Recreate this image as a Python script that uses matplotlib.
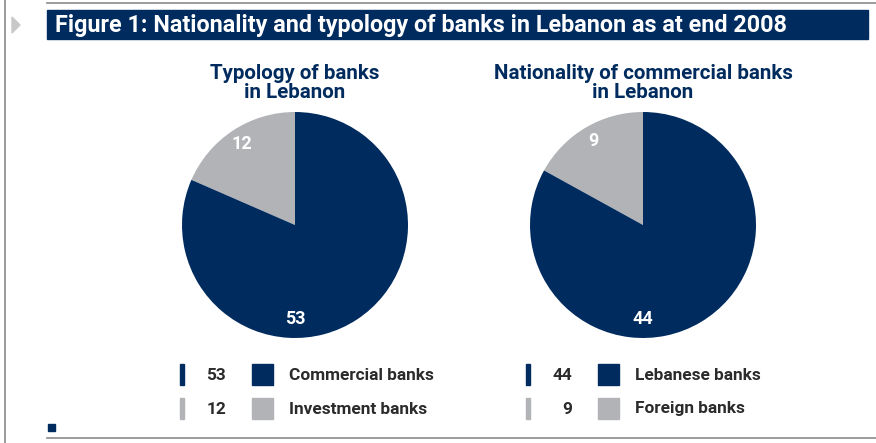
import matplotlib
matplotlib.use("Agg")
import matplotlib.pyplot as plt
from matplotlib.patches import Rectangle, Polygon
import numpy as np

plt.rcParams['font.family'] = ['Roboto', 'DejaVu Sans']

NAVY = "#002b5e"
GREY = "#b1b3b6"
TEXT = "#2b2b2b"

title = "Figure 1: Nationality and typology of banks in Lebanon as at end 2008"

left_title = "Typology of banks\nin Lebanon"
left_labels = ["Investment banks", "Commercial banks"]
left_values = [12, 53]

right_title = "Nationality of commercial banks\nin Lebanon"
right_labels = ["Foreign banks", "Lebanese banks"]
right_values = [9, 44]

W, H = 876, 443
fig = plt.figure(figsize=(W / 100, H / 100), dpi=100)

# background axes in pixel coordinates for frame decorations
bg = fig.add_axes([0, 0, 1, 1])
bg.set_xlim(0, W)
bg.set_ylim(H, 0)
bg.axis("off")

bg.plot([5, 5], [0, H], color="#8a8a8a", lw=1.2)
bg.plot([47, W], [3, 3], color="#8a8a8a", lw=1.2)
bg.plot([47, W], [438, 438], color="#8a8a8a", lw=1.2)
bg.add_patch(Polygon([[12, 17], [12, 33], [20, 25]], closed=True, color="#c8c8c8"))
bg.add_patch(Rectangle((47, 10), 821, 29, color=NAVY))
bg.add_patch(Rectangle((48, 424), 7, 7, color=NAVY))
bg.text(55, 25, title, color="white", fontsize=16.8, fontweight="bold", va="center", ha="left")


def draw_pie(cx, title_txt, labels, values, leg_x):
    r = 113
    cy = 225
    ax = fig.add_axes([(cx - r) / W, (H - cy - r) / H, 2 * r / W, 2 * r / H])
    ax.pie(values, colors=[GREY, NAVY], startangle=90, counterclock=True,
           wedgeprops=dict(linewidth=0))
    ax.set_xlim(-1, 1)
    ax.set_ylim(-1, 1)
    ax.set_aspect("auto")
    # value labels inside the wedges
    a_small = np.deg2rad(90 + 360 * values[0] / sum(values) * 0.5)
    ax.text(0.86 * np.cos(a_small), 0.86 * np.sin(a_small), str(values[0]),
            color="white", fontsize=13, fontweight="bold", ha="center", va="center")
    ax.text(0, -0.83, str(values[1]), color="white", fontsize=13,
            fontweight="bold", ha="center", va="center")

    bg.text(cx, 83, title_txt, color=NAVY, fontsize=14.8, fontweight="bold",
            ha="center", va="center", linespacing=0.98)

    # legend rows: big value first (navy), then small value (grey)
    rows = [(values[1], labels[1], NAVY, 364), (values[0], labels[0], GREY, 398)]
    for val, lab, col, y in rows:
        bg.add_patch(Rectangle((leg_x, y), 4, 21, color=col))
        bg.text(leg_x + 46, y + 11, str(val), color=TEXT, fontsize=12.4,
                fontweight="bold", ha="right", va="center")
        bg.add_patch(Rectangle((leg_x + 72, y), 21, 21, color=col))
        bg.text(leg_x + 109, y + 11, lab, color=TEXT, fontsize=12.4,
                fontweight="bold", ha="left", va="center")


draw_pie(295, left_title, left_labels, left_values, 180)
draw_pie(643, right_title, right_labels, right_values, 526)

fig.savefig("out.png", dpi=100)
